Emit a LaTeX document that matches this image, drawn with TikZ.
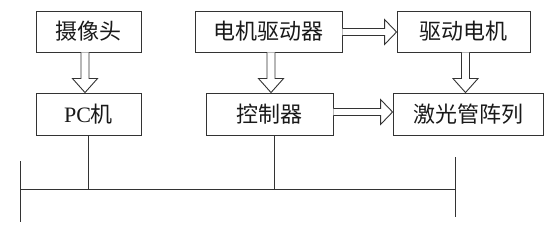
\documentclass[tikz,border=0pt]{standalone}
\usepackage{fontspec}
\setmainfont{Liberation Serif}
\newfontfamily\cjk{Noto Sans CJK SC}
\usetikzlibrary{calc}
\begin{document}
\begin{tikzpicture}[x=1pt,y=1pt,
  box/.style={draw=black!80,line width=0.9pt,inner sep=0pt,minimum height=41pt,
    font=\fontsize{22}{22}\selectfont\cjk,text=black!90},
  blk/.style={draw=black!80,line width=0.9pt,fill=white,line join=miter},
  bus/.style={draw=black!80,line width=0.9pt}]
\useasboundingbox (0,0) rectangle (548,-235);
\node[box,minimum width=105pt] (cam) at (88.5,-31.5) {摄像头};
\node[box,minimum width=105pt,minimum height=42pt] (pc) at (88.5,-114) {{\fontfamily{\rmdefault}\selectfont\fontsize{22}{22}\selectfont PC}机};
\node[box,minimum width=147pt] (drv) at (268.5,-31.5) {电机驱动器};
\node[box,minimum width=127pt,minimum height=42pt] (ctl) at (269.5,-114) {控制器};
\node[box,minimum width=133pt] (mot) at (463.5,-31.5) {驱动电机};
\node[box,minimum width=150pt,minimum height=42pt] (las) at (468,-114) {激光管阵列};
% vertical block arrows
\newcommand\vblk[3]{%
  \draw[blk] let \p1=($(#1.south)+(#3,0)$), \p2=(#2.north) in
    (\x1-4pt,\y1) -- (\x1-4pt,\y2+14pt) -- (\x1-12.5pt,\y2+14pt) -- (\x1,\y2)
    -- (\x1+12.5pt,\y2+14pt) -- (\x1+4pt,\y2+14pt) -- (\x1+4pt,\y1);}
\newcommand\hblk[3]{%
  \draw[blk] let \p1=($(#1.east)+(0,#3)$), \p2=(#2.west) in
    (\x1,\y1+3.5pt) -- (\x2-12pt,\y1+3.5pt) -- (\x2-12pt,\y1+12.5pt) -- (\x2,\y1)
    -- (\x2-12pt,\y1-12.5pt) -- (\x2-12pt,\y1-3.5pt) -- (\x1,\y1-3.5pt);}
\vblk{cam}{pc}{-3.5}
\vblk{drv}{ctl}{2.5}
\vblk{mot}{las}{2}
\hblk{drv}{mot}{-0.5}
\hblk{ctl}{las}{2}
% bus
\coordinate (bl) at (20,-189);
\coordinate (br) at (455,-189);
\coordinate (blt) at (20,-161);
\coordinate (blb) at (20,-222);
\coordinate (brt) at (455,-157);
\coordinate (brb) at (455,-217);
\draw[bus] (bl) -- (br);
\draw[bus] (blt) -- (blb);
\draw[bus] (brt) -- (brb);
\draw[bus] (pc.south) -- (pc.south |- bl);
\draw[bus] ([xshift=4.5pt]ctl.south) -- ([xshift=4.5pt]ctl.south |- bl);
\end{tikzpicture}
\end{document}
